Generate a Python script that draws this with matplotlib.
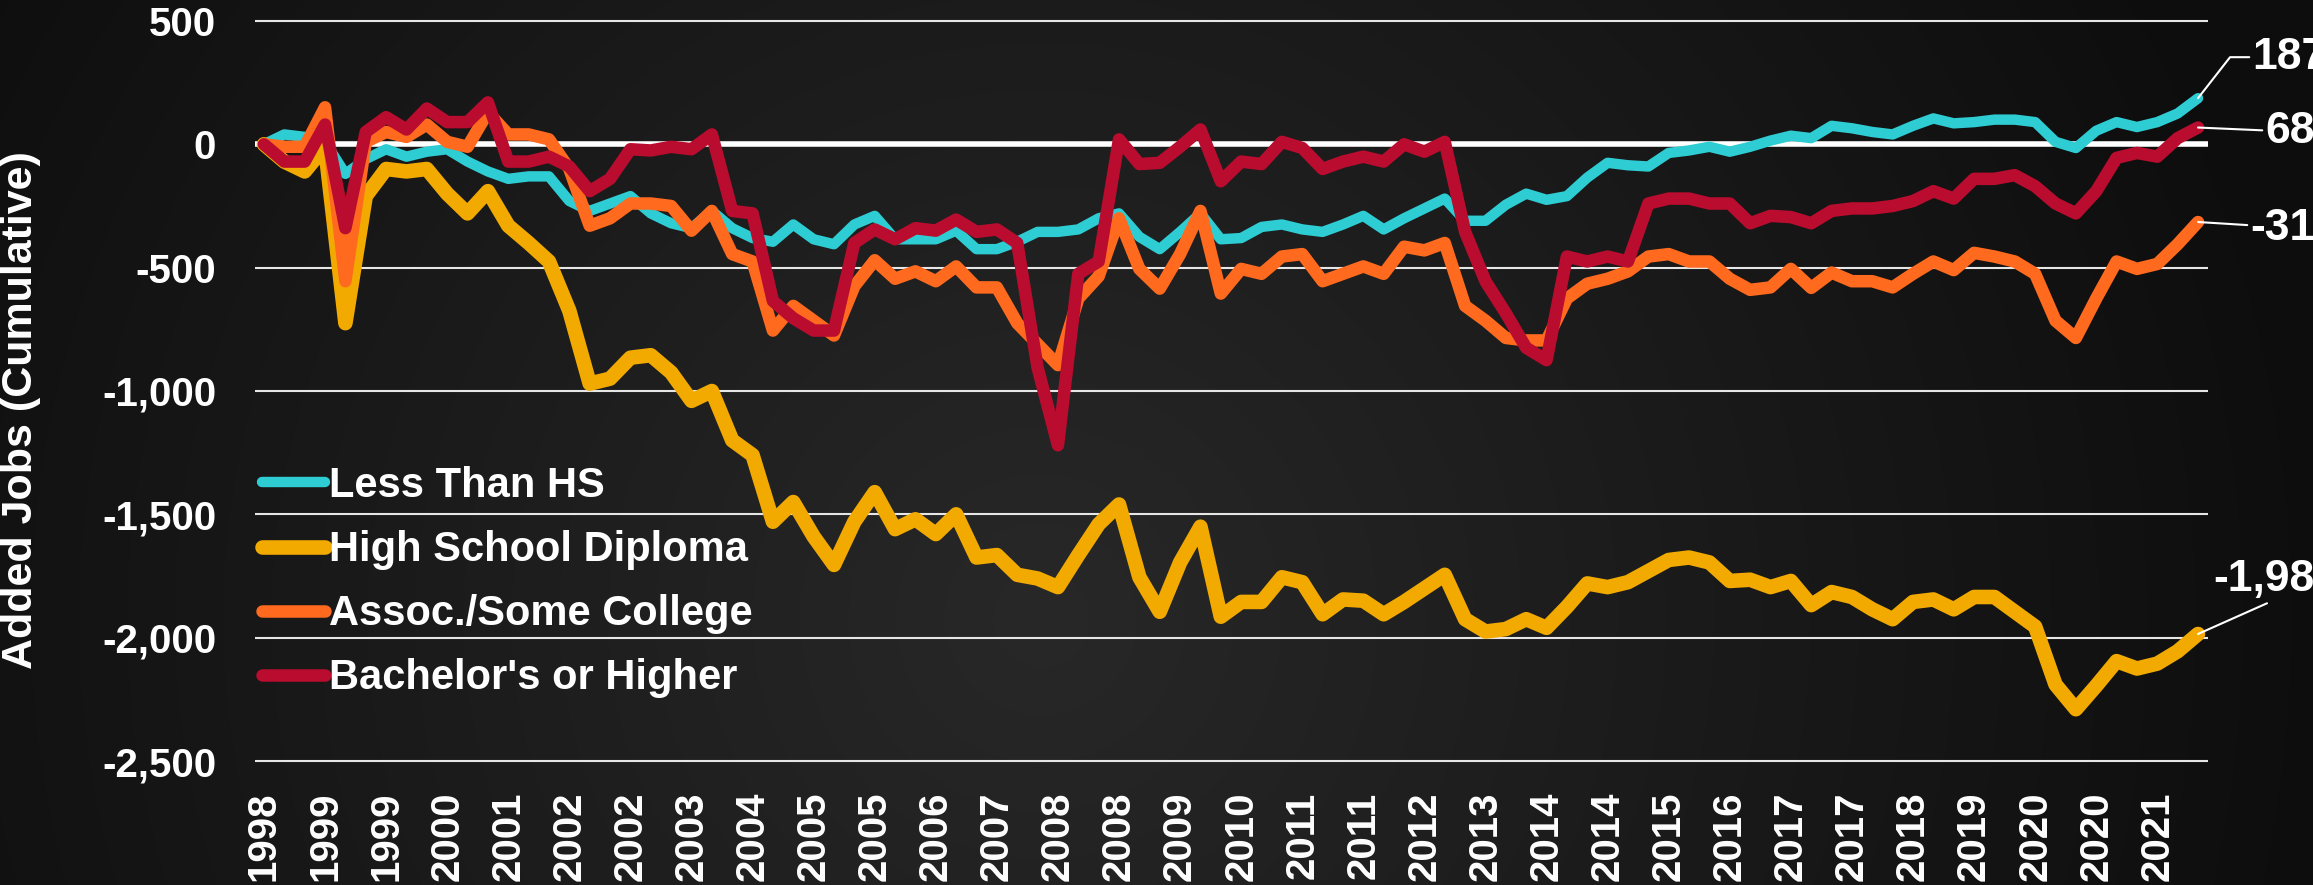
import numpy as np
import pandas as pd
import matplotlib
matplotlib.use("Agg")
import matplotlib.pyplot as plt
from matplotlib.ticker import FuncFormatter

plt.rcParams['font.family'] = ['Liberation Sans', 'DejaVu Sans']
plt.rcParams['font.weight'] = 'bold'

# quarterly periods, 1998Q2 .. 2022Q1
quarters = pd.period_range('1998Q2', periods=96, freq='Q')

# cumulative added jobs (thousands)
less_than_hs = [0, 40, 30, 10, -120, -60, -20, -50, -30, -20,
                -70, -110, -140, -130, -130, -230, -270, -240, -210, -280,
                -320, -340, -270, -340, -380, -395, -325, -385, -405, -325,
                -290, -385, -385, -385, -350, -425, -425, -395, -355, -355,
                -345, -300, -280, -375, -425, -355, -280, -385, -380, -335,
                -325, -345, -355, -325, -290, -345, -300, -260, -220, -310,
                -310, -245, -200, -225, -210, -135, -75, -85, -90, -35,
                -25, -10, -30, -10, 15, 35, 25, 75, 65, 50,
                40, 75, 105, 85, 90, 100, 100, 90, 10, -15,
                55, 90, 70, 90, 125, 187]
high_school = [0, -70, -110, -10, -725, -210, -100, -110, -100, -200,
               -280, -190, -330, -400, -475, -675, -970, -950, -865, -855,
               -925, -1040, -1000, -1200, -1260, -1530, -1450, -1590, -1705, -1530,
               -1410, -1560, -1520, -1580, -1500, -1675, -1665, -1745, -1760, -1795,
               -1665, -1540, -1460, -1755, -1895, -1695, -1550, -1915, -1855, -1855,
               -1755, -1775, -1905, -1845, -1850, -1905, -1855, -1800, -1745, -1925,
               -1975, -1965, -1925, -1960, -1875, -1780, -1795, -1775, -1730, -1685,
               -1675, -1695, -1770, -1765, -1795, -1770, -1868, -1815, -1835, -1885,
               -1925, -1855, -1845, -1885, -1835, -1835, -1895, -1955, -2190, -2290,
               -2195, -2095, -2125, -2105, -2055, -1985]
some_college = [0, -10, -10, 150, -555, 10, 50, 30, 80, 10,
                -10, 130, 40, 40, 20, -100, -330, -300, -240, -240,
                -250, -350, -270, -445, -475, -755, -655, -715, -775, -575,
                -470, -545, -515, -555, -495, -580, -580, -725, -810, -895,
                -625, -535, -300, -505, -585, -445, -270, -605, -505, -525,
                -455, -445, -555, -525, -495, -525, -415, -430, -400, -655,
                -715, -785, -795, -795, -625, -565, -545, -515, -455, -445,
                -475, -475, -545, -590, -580, -505, -582, -520, -555, -555,
                -580, -525, -475, -510, -440, -455, -475, -525, -715, -785,
                -625, -475, -505, -485, -405, -315]
bachelors = [0, -70, -70, 80, -340, 50, 110, 60, 145, 90,
             90, 170, -70, -70, -50, -90, -190, -140, -20, -25,
             -10, -20, 40, -270, -280, -635, -705, -755, -755, -400,
             -345, -385, -340, -350, -305, -355, -345, -400, -905, -1220,
             -525, -475, 20, -80, -75, -10, 60, -150, -70, -80,
             10, -15, -100, -70, -50, -70, 0, -30, 10, -355,
             -555, -685, -825, -875, -455, -475, -455, -475, -240, -220,
             -220, -240, -240, -320, -290, -295, -320, -270, -260, -260,
             -250, -230, -190, -220, -140, -140, -125, -170, -240, -280,
             -190, -55, -35, -50, 25, 68]

names = ["Less Than HS", "High School Diploma", "Assoc./Some College", "Bachelor's or Higher"]
colors = ['#2ECCD3', '#F2AA00', '#FF6A1F', '#BA0C2F']
widths = [7.5, 10.5, 9, 9]
all_series = [less_than_hs, high_school, some_college, bachelors]

# end-label offsets (pixels from the last point) and leader shape
label_offsets = [(54, 41), (15, 54), (52, -6), (67, -4)]
leader_styles = ['angle,angleA=0,angleB=52,rad=0',
                 'angle,angleA=90,angleB=24,rad=0', 'arc3', 'arc3']

W, H = 2313, 885
fig = plt.figure(figsize=(W / 100, H / 100), dpi=100)

# radial background
bg = fig.add_axes([0, 0, 1, 1], zorder=0)
yy, xx = np.mgrid[0:H:300j, 0:W:800j]
d = np.sqrt((xx - 0.45 * W) ** 2 + (yy - 0.30 * H) ** 2) / 1300
g = (40 - 27 * np.clip(d, 0, 1)) / 255
bg.imshow(np.dstack([g, g, g]), extent=[0, 1, 0, 1], origin='lower', aspect='auto')
bg.axis('off')

top, bottom = 18, 764
ax = fig.add_axes([255 / W, 1 - bottom / H, (2208 - 255) / W, (bottom - top) / H], zorder=1)
ax.patch.set_alpha(0)

x = np.arange(len(quarters))
for vals, name, c, lw in zip(all_series, names, colors, widths):
    ax.plot(x, vals, color=c, lw=lw, label=name, solid_capstyle='round',
            solid_joinstyle='round', zorder=3)

ax.axhline(0, color='white', lw=4, zorder=2)

ax.set_xlim(-0.44, 95.49)
ax.set_ylim(-2512, 512)
ax.set_yticks(np.arange(-2500, 501, 500))
ax.yaxis.set_major_formatter(FuncFormatter(lambda v, p: f"{v:,.0f}"))
ax.set_xticks(x[::3])
ax.set_xticklabels([str(q.year) for q in quarters[::3]], rotation=90)
ax.yaxis.grid(True, color='#e6e6e6', lw=1.5)
ax.set_axisbelow(True)
for s in ax.spines.values():
    s.set_visible(False)
ax.tick_params(axis='both', length=0, colors='white', labelsize=29)
ax.tick_params(axis='x', pad=20)
ax.tick_params(axis='y', pad=28)

fig.text(21 / W, 1 - 410 / H, "Added Jobs (Cumulative)", rotation=90,
         ha='center', va='center', color='white', fontsize=31)

leg = ax.legend(loc='upper left', bbox_to_anchor=(262 / W, 1 - 466 / H),
                bbox_transform=fig.transFigure, frameon=False, fontsize=30,
                handlelength=1.5, handletextpad=0.1, labelspacing=0.58,
                borderpad=0, borderaxespad=0)
for t in leg.get_texts():
    t.set_color('white')

for vals, c, off, cs in zip(all_series, colors, label_offsets, leader_styles):
    ax.annotate(f"{vals[-1]:,.0f}", xy=(x[-1], vals[-1]), xytext=off,
                textcoords='offset pixels', ha='left', va='center',
                color='white', fontsize=32, annotation_clip=False, zorder=4,
                arrowprops=dict(arrowstyle='-', color='white', lw=1.5,
                                shrinkA=0, shrinkB=0, connectionstyle=cs))

fig.savefig('out.png', dpi=100)
